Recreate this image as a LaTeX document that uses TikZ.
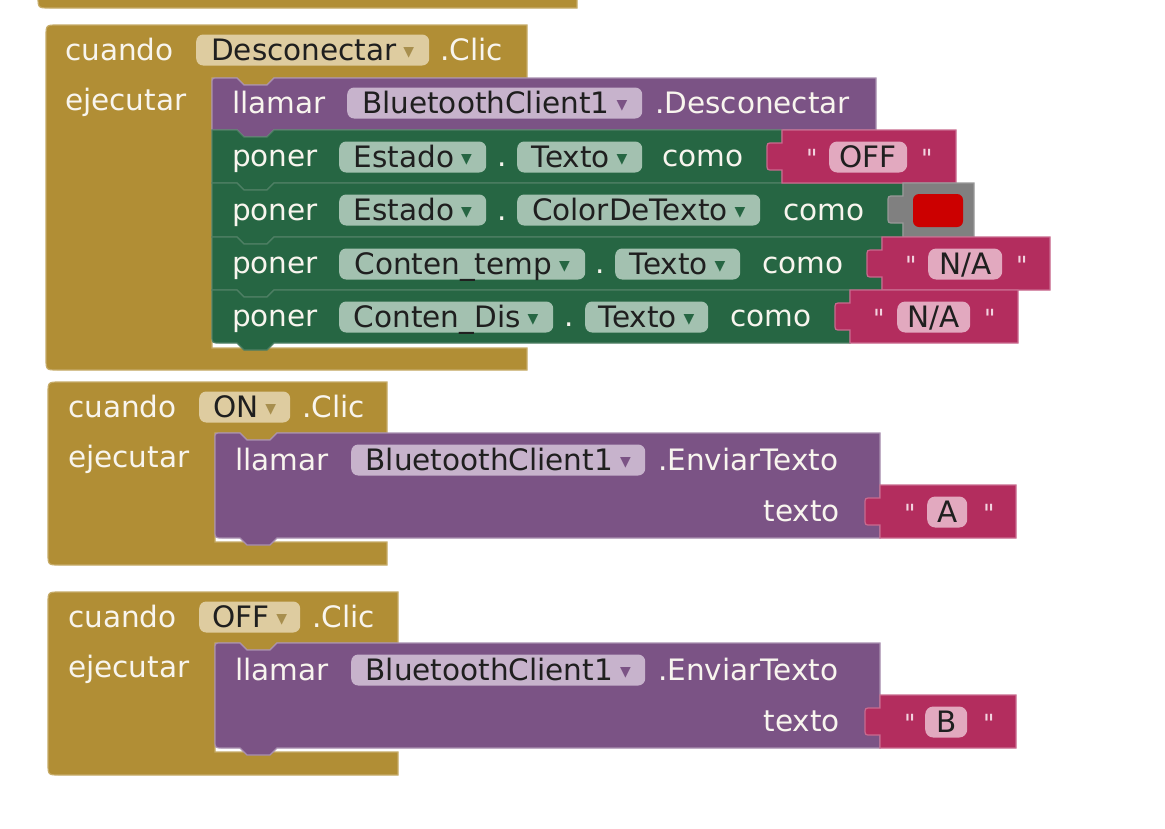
\documentclass[tikz,border=0pt]{standalone}
\usepackage{fontspec}
\setmainfont{DejaVu Sans}
% same face without the TeX mapping, so that " stays a straight quote
\newfontfamily\straightquotes{DejaVu Sans}

\definecolor{evgold}{HTML}{B18E35}
\definecolor{evgoldln}{HTML}{C6AB68}
\definecolor{ddgold}{HTML}{DECCA0}
\definecolor{ddgoldarr}{HTML}{A88F4E}
\definecolor{callpur}{HTML}{7B5385}
\definecolor{callpurln}{HTML}{A88FB0}
\definecolor{ddpur}{HTML}{C7B3CC}
\definecolor{setgrn}{HTML}{266643}
\definecolor{setgrnln}{HTML}{4E7F64}
\definecolor{ddgrn}{HTML}{A3C1B0}
\definecolor{txtmag}{HTML}{B32D5E}
\definecolor{txtmagln}{HTML}{C96A8E}
\definecolor{pillmag}{HTML}{E2A9BF}
\definecolor{quotepink}{HTML}{F2D3DF}
\definecolor{colgrey}{HTML}{808080}
\definecolor{colgreyln}{HTML}{999999}
\definecolor{colred}{HTML}{CC0000}
\definecolor{lbl}{HTML}{F8F5EE}

% small triangle at the right end of a dropdown field
\newcommand\ddarrow[1]{\hspace{7pt}{\color{#1}\fontsize{14}{14}\selectfont\raisebox{4pt}{▼}}}

% statement block: style, left, top, right, bottom, top-left radius, bottom-left radius
\newcommand\stmtblock[7]{%
  \path[#1] (#2,{#3+#6}) .. controls (#2,#3) .. ({#2+#6},#3)
    -- ({#2+25},#3) -- ({#2+32},{#3+7}) -- ({#2+55},{#3+7}) -- ({#2+62},#3)
    -- (#4,#3) -- (#4,#5)
    -- ({#2+62},#5) -- ({#2+55},{#5+7}) -- ({#2+32},{#5+7}) -- ({#2+25},#5)
    -- ({#2+#7},#5) .. controls (#2,#5) .. (#2,{#5-#7}) -- cycle;}

% event handler (C shape): left, top, top-right, inner top, inner left, inner bottom, bottom, bottom-right
\newcommand\eventblock[8]{%
  \path[evshape] (#1,{#2+12}) .. controls (#1,#2) .. ({#1+12},#2)
    -- (#3,#2) -- (#3,#4)
    -- ({#5+62},#4) -- ({#5+55},{#4+7}) -- ({#5+32},{#4+7}) -- ({#5+25},#4)
    -- (#5,#4) -- (#5,#6) -- (#8,#6) -- (#8,#7)
    -- ({#1+12},#7) .. controls (#1,#7) .. (#1,{#7-12}) -- cycle;}

% value block with its plug on the left: style, x1, y1, x2, y2
\newcommand\valueblock[5]{%
  \path[#1] (#2,#3) -- (#4,#3) -- (#4,#5) -- (#2,#5) -- (#2,{#3+40})
    -- ({#2-9},{#3+40}) .. controls ({#2-15},{#3+40}) .. ({#2-15},{#3+34})
    -- ({#2-15},{#3+19}) .. controls ({#2-15},{#3+13}) .. ({#2-9},{#3+13})
    -- (#2,{#3+13}) -- cycle;}

\begin{document}
\begin{tikzpicture}[x=1pt,y=-1pt,
  evshape/.style={fill=evgold, draw=evgoldln, line width=1.2pt},
  purshape/.style={fill=callpur, draw=callpurln, line width=1.2pt},
  grnshape/.style={fill=setgrn, draw=setgrnln, line width=1.2pt},
  magshape/.style={fill=txtmag, draw=txtmagln, line width=1.2pt},
  greyshape/.style={fill=colgrey, draw=colgreyln, line width=1.2pt},
  lab/.style={anchor=west, inner sep=0pt, text=lbl, text height=20pt, text depth=0pt,
    font=\fontsize{29.5}{34}\selectfont},
  labr/.style={lab, anchor=east},
  qt/.style={lab, text=quotepink, font=\straightquotes\fontsize{25}{30}\selectfont},
  pill/.style={anchor=west, inner xsep=0pt, inner ysep=0pt, minimum height=31pt,
    rounded corners=7pt, text=black!88, text height=20pt, text depth=0pt,
    font=\fontsize{29.5}{34}\selectfont},
  goldpill/.style={pill, fill=ddgold},
  purpill/.style={pill, fill=ddpur},
  grnpill/.style={pill, fill=ddgrn},
  magpill/.style={pill, fill=pillmag, rounded corners=8pt},
]
\useasboundingbox (0,0) rectangle (1165,828);
\fill[white] (0,0) rectangle (1165,828);

% lower edge of the handler above
\path[evshape] (38,-10) -- (577,-10) -- (577,8) -- (50,8) .. controls (38,8) .. (38,-4) -- cycle;

% ---------- cuando Desconectar.Clic ----------
\eventblock{46}{25}{527}{78}{212}{348}{370}{527}
\stmtblock{purshape}{212}{78}{876}{130}{6}{0}
\stmtblock{grnshape}{212}{130}{782}{183}{0}{0}
\stmtblock{grnshape}{212}{183}{903}{237}{0}{0}
\stmtblock{grnshape}{212}{237}{882}{290}{0}{0}
\stmtblock{grnshape}{212}{290}{850}{343}{0}{8}
\valueblock{magshape}{782}{130}{956}{183}
\valueblock{greyshape}{903}{183}{974}{237}
\valueblock{magshape}{882}{237}{1050}{290}
\valueblock{magshape}{850}{290}{1018}{343}
\fill[colred, rounded corners=6pt] (913,194) rectangle (963,227);

\node[lab] (a-cuando) at (65,50) {cuando};
\node[goldpill, minimum width=233pt] (a-boton) at (196,50) {Desconectar\ddarrow{ddgoldarr}};
\node[lab] (a-clic) at (440,50) {.Clic};
\node[lab] (a-ejecutar) at (65,100) {ejecutar};
\node[lab] (a-llamar) at (232,103) {llamar};
\node[purpill, minimum width=295pt] (a-cliente) at (347,103) {BluetoothClient1\ddarrow{callpur}};
\node[lab] (a-metodo) at (655,103) {.Desconectar};

\node[lab] (r1-poner) at (232,156) {poner};
\node[grnpill, minimum width=147pt] (r1-comp) at (339,157) {Estado\ddarrow{setgrn}};
\node[lab] (r1-punto) at (497,156) {.};
\node[grnpill, minimum width=125pt] (r1-prop) at (517,157) {Texto\ddarrow{setgrn}};
\node[lab] (r1-como) at (662,156) {como};
\node[qt] (r1-qa) at (806,157) {"};
\node[magpill, minimum width=78pt] (r1-valor) at (829,157) {OFF};
\node[qt] (r1-qb) at (921,157) {"};

\node[lab] (r2-poner) at (232,210) {poner};
\node[grnpill, minimum width=147pt] (r2-comp) at (339,210) {Estado\ddarrow{setgrn}};
\node[lab] (r2-punto) at (497,210) {.};
\node[grnpill, minimum width=243pt] (r2-prop) at (517,210) {ColorDeTexto\ddarrow{setgrn}};
\node[lab] (r2-como) at (783,210) {como};

\node[lab] (r3-poner) at (232,263) {poner};
\node[grnpill, minimum width=246pt] (r3-comp) at (339,264) {Conten\_temp\ddarrow{setgrn}};
\node[lab] (r3-punto) at (595,263) {.};
\node[grnpill, minimum width=125pt] (r3-prop) at (615,264) {Texto\ddarrow{setgrn}};
\node[lab] (r3-como) at (762,263) {como};
\node[qt] (r3-qa) at (905,264) {"};
\node[magpill, minimum width=74pt] (r3-valor) at (928,264) {N/A};
\node[qt] (r3-qb) at (1016,264) {"};

\node[lab] (r4-poner) at (232,316) {poner};
\node[grnpill, minimum width=214pt] (r4-comp) at (339,317) {Conten\_Dis\ddarrow{setgrn}};
\node[lab] (r4-punto) at (564,316) {.};
\node[grnpill, minimum width=123pt] (r4-prop) at (585,317) {Texto\ddarrow{setgrn}};
\node[lab] (r4-como) at (730,316) {como};
\node[qt] (r4-qa) at (873,317) {"};
\node[magpill, minimum width=73pt] (r4-valor) at (897,317) {N/A};
\node[qt] (r4-qb) at (984,317) {"};

% ---------- cuando ON.Clic ----------
\eventblock{48}{382}{387}{433}{215}{542}{565}{387}
\stmtblock{purshape}{215}{433}{880}{538}{6}{8}
\valueblock{magshape}{880}{485}{1016}{538}

\node[lab] (b-cuando) at (68,407) {cuando};
\node[goldpill, minimum width=91pt] (b-boton) at (199,407) {ON\ddarrow{ddgoldarr}};
\node[lab] (b-clic) at (302,407) {.Clic};
\node[lab] (b-ejecutar) at (68,457) {ejecutar};
\node[lab] (b-llamar) at (235,460) {llamar};
\node[purpill, minimum width=294pt] (b-cliente) at (351,460) {BluetoothClient1\ddarrow{callpur}};
\node[lab] (b-metodo) at (658,460) {.EnviarTexto};
\node[labr] (b-texto) at (840,511) {texto};
\node[qt] (b-qa) at (904,512) {"};
\node[magpill, minimum width=40pt] (b-valor) at (927,512) {A};
\node[qt] (b-qb) at (983,512) {"};

% ---------- cuando OFF.Clic ----------
\eventblock{48}{592}{398}{643}{215}{752}{775}{398}
\stmtblock{purshape}{215}{643}{880}{748}{6}{8}
\valueblock{magshape}{880}{695}{1016}{748}

\node[lab] (c-cuando) at (68,617) {cuando};
\node[goldpill, minimum width=101pt] (c-boton) at (199,617) {OFF\ddarrow{ddgoldarr}};
\node[lab] (c-clic) at (312,617) {.Clic};
\node[lab] (c-ejecutar) at (68,667) {ejecutar};
\node[lab] (c-llamar) at (235,670) {llamar};
\node[purpill, minimum width=294pt] (c-cliente) at (351,670) {BluetoothClient1\ddarrow{callpur}};
\node[lab] (c-metodo) at (658,670) {.EnviarTexto};
\node[labr] (c-texto) at (840,721) {texto};
\node[qt] (c-qa) at (904,722) {"};
\node[magpill, minimum width=42pt] (c-valor) at (925,722) {B};
\node[qt] (c-qb) at (983,722) {"};
\end{tikzpicture}
\end{document}
